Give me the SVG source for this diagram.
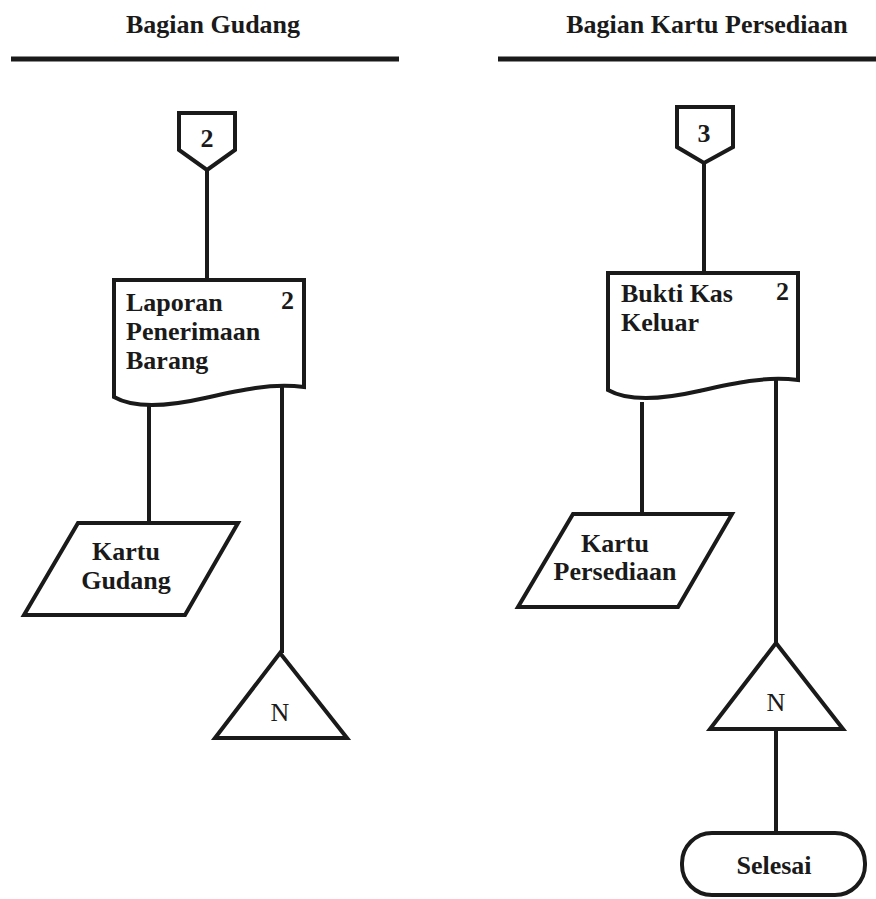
<svg xmlns="http://www.w3.org/2000/svg" width="876" height="899" viewBox="0 0 876 899">
<style>
.s{fill:#fff;stroke:#1a1a1a;stroke-width:4;stroke-linejoin:miter}
.c{fill:none;stroke:#1a1a1a;stroke-width:4}
.h{fill:none;stroke:#1a1a1a;stroke-width:5}
.t{font-family:"Liberation Serif","Times New Roman",serif;font-weight:bold;font-size:26px;fill:#1a1a1a}
.n{font-family:"Liberation Serif","Times New Roman",serif;font-size:26px;fill:#1a1a1a}
.m{text-anchor:middle}
</style>
<rect width="876" height="899" fill="#fff"/>
<g id="headers">
<text class="t m" x="213" y="33">Bagian Gudang</text>
<line class="h" x1="11" y1="59" x2="399" y2="59"/>
<text class="t m" x="707" y="33">Bagian Kartu Persediaan</text>
<line class="h" x1="498" y1="59" x2="876" y2="59"/>
</g>
<g id="connectors">
<line class="c" x1="207" y1="170" x2="207" y2="280"/>
<line class="c" x1="149" y1="403" x2="149" y2="523"/>
<line class="c" x1="282" y1="387" x2="282" y2="653"/>
<line class="c" x1="704" y1="163" x2="704" y2="273"/>
<line class="c" x1="642" y1="402" x2="642" y2="514"/>
<line class="c" x1="776" y1="380" x2="776" y2="643"/>
<line class="c" x1="776" y1="729" x2="776" y2="833"/>
</g>
<g id="conn2">
<polygon class="s" points="179,113 235,113 235,150 207,170 179,150"/>
<text class="t m" x="207" y="147">2</text>
</g>
<g id="doc-lpb">
<path class="s" d="M114,280 H304 V387 C270,383 240,390 205,398 C170,406 135,409 114,397 Z"/>
<text class="t" x="126" y="311">Laporan</text>
<text class="t" x="126" y="340">Penerimaan</text>
<text class="t" x="126" y="369">Barang</text>
<text class="t" x="281" y="309">2</text>
</g>
<g id="kartu-gudang">
<polygon class="s" points="78,523 238,523 185,615 24,615"/>
<text class="t m" x="126" y="560">Kartu</text>
<text class="t m" x="126" y="589">Gudang</text>
</g>
<g id="tri-left">
<polygon class="s" points="280,653 347,738 215,738"/>
<text class="n m" x="280" y="721">N</text>
</g>
<g id="conn3">
<polygon class="s" points="677,107 733,107 733,147 704,163 677,147"/>
<text class="t m" x="704" y="142">3</text>
</g>
<g id="doc-bkk">
<path class="s" d="M608,273 H798 V380 C764,376 734,383 699,391 C664,399 629,402 608,390 Z"/>
<text class="t" x="621" y="302">Bukti Kas</text>
<text class="t" x="621" y="331">Keluar</text>
<text class="t" x="776" y="300">2</text>
</g>
<g id="kartu-persediaan">
<polygon class="s" points="573,514 732,514 678,607 518,607"/>
<text class="t m" x="615" y="552">Kartu</text>
<text class="t m" x="615" y="580">Persediaan</text>
</g>
<g id="tri-right">
<polygon class="s" points="776,643 843,729 710,729"/>
<text class="n m" x="776" y="711">N</text>
</g>
<g id="selesai">
<rect class="s" x="682" y="833" width="183" height="62" rx="30" ry="30"/>
<text class="t m" x="774" y="874">Selesai</text>
</g>
</svg>
